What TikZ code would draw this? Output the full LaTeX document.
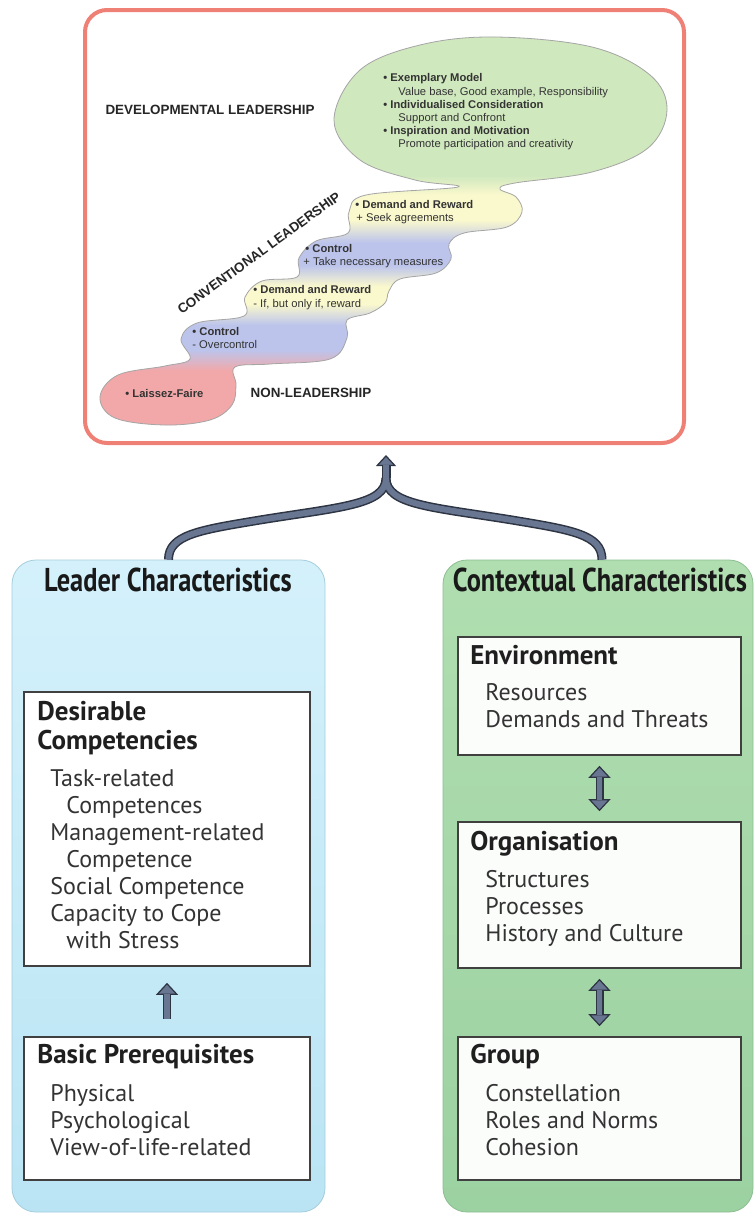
\documentclass[tikz,border=0pt]{standalone}
\usepackage{fontspec}
\usepackage{xcolor}
\usepackage{tikz}
\usetikzlibrary{
  arrows.meta,
  positioning
}

\newfontfamily\arialfont{Liberation Sans}
\newfontfamily\myriadfont{PT Sans}
\newfontfamily\condfont[FakeStretch=0.8]{PT Sans}

\definecolor{framered}{RGB}{238,128,118}
\definecolor{blobgreen}{RGB}{208,232,190}
\definecolor{blobyellow}{RGB}{250,248,205}
\definecolor{blobblue}{RGB}{188,196,236}
\definecolor{blobred}{RGB}{242,168,168}
\definecolor{blobline}{RGB}{165,165,165}
\definecolor{arrowfill}{RGB}{104,118,146}
\definecolor{arrowdark}{RGB}{45,52,66}
\definecolor{leadertop}{RGB}{212,241,251}
\definecolor{leaderbottom}{RGB}{186,228,244}
\definecolor{leaderedge}{RGB}{165,205,220}
\definecolor{contexttop}{RGB}{176,222,176}
\definecolor{contextbottom}{RGB}{156,209,161}
\definecolor{contextedge}{RGB}{140,190,145}

\pgfdeclareverticalshading{blobs}{100bp}{color(0bp)=(blobred); color(32bp)=(blobred); color(34.7bp)=(blobblue); color(37.9bp)=(blobblue); color(40.6bp)=(blobyellow); color(42.9bp)=(blobyellow); color(45.6bp)=(blobblue); color(48.5bp)=(blobblue); color(51.4bp)=(blobyellow); color(54.7bp)=(blobyellow); color(57.1bp)=(blobgreen); color(100bp)=(blobgreen)}

\begin{document}
\begin{tikzpicture}[x=0.5pt,y=-0.5pt,% 1単位 = 1ピクセル
    toptext/.style={font=\arialfont\fontsize{5.6}{6.6}\selectfont, text=black!80, inner sep=0pt, anchor=base west},
    topbold/.style={toptext, font=\arialfont\bfseries\fontsize{5.6}{6.6}\selectfont},
    level/.style={font=\arialfont\bfseries\fontsize{6.7}{8}\selectfont, text=black!85, inner sep=0pt},
    panel/.style={draw=#1edge, top color=#1top, bottom color=#1bottom, rounded corners=12pt, minimum height=326pt, inner sep=0pt},
    paneltitle/.style={font=\condfont\bfseries\fontsize{16.5}{18}\selectfont, text=black!90, inner sep=0pt},
    box/.style={draw=black!75, line width=0.8pt, fill=#1, minimum width=142pt, inner sep=0pt},
    boxtitle/.style={font=\myriadfont\bfseries\fontsize{13.5}{15}\selectfont, text=black!88, inner sep=0pt, anchor=base west},
    boxitem/.style={font=\myriadfont\fontsize{12}{14}\selectfont, text=black!80, inner sep=0pt, anchor=base west},
    bigdark/.style={line width=4.5pt, draw=arrowdark},
    biglight/.style={line width=3pt, draw=arrowfill},
    fatarrow/.style={line width=4pt, draw=arrowdark,
      -{Triangle[length=6pt, width=11pt, line width=0.6pt, fill=arrowfill]},
      postaction={draw=arrowfill, line width=2.6pt, -, shorten >=5.5pt}},
    dblarrow/.style={line width=4pt, draw=arrowdark,
      {Triangle[length=6pt, width=11pt, line width=0.6pt, fill=arrowfill]}-{Triangle[length=6pt, width=11pt, line width=0.6pt, fill=arrowfill]},
      postaction={draw=arrowfill, line width=2.6pt, -, shorten >=5.5pt, shorten <=5.5pt}}
  ]
  \useasboundingbox (0,0) rectangle (754,1216);

  % 上の図
  \node[draw=framered, line width=2pt, rounded corners=11pt, fill=white,
    minimum width=299.5pt, minimum height=216.5pt] (frame) at (384.5,226.5) {};

  \shadedraw[shading=blobs, draw=blobline, line width=0.4pt]
    plot[smooth cycle, tension=0.6] coordinates {
      (495,37) (592,47) (650,75) (667,110) (648,148) (592,172) (515,183)
      (500,189) (516,197) (522,212) (507,227) (464,233) (449,244) (451,259)
      (436,273) (400,279) (389,291) (385,303) (370,313) (347,320) (347,338)
      (330,359) (270,364) (235,367) (236,385) (232,405) (210,420) (165,425)
      (115,418) (100,397) (118,375) (165,366) (190,359) (181,339) (197,323)
      (244,316) (245,297) (262,281) (297,277) (299,258) (316,241) (348,233)
      (349,212) (366,195) (458,187) (415,180) (360,160) (334,120) (360,70)
      (420,45)
    };

  \node[level] (devlabel) at (210,110) {DEVELOPMENTAL LEADERSHIP};
  \node[level, rotate=36] (convlabel) at (259,253) {CONVENTIONAL LEADERSHIP};
  \node[level] (nonlabel) at (311,393) {NON-LEADERSHIP};

  \node[topbold] (em) at (383,81) {\textbullet\ Exemplary Model};
  \node[toptext] (em-sub) at (398,95) {Value base, Good example, Responsibility};
  \node[topbold] (ic) at (383,108) {\textbullet\ Individualised Consideration};
  \node[toptext] (ic-sub) at (398,121) {Support and Confront};
  \node[topbold] (im) at (383,134) {\textbullet\ Inspiration and Motivation};
  \node[toptext] (im-sub) at (398,147) {Promote participation and creativity};
  \node[topbold] (dr1) at (355,208) {\textbullet\ Demand and Reward};
  \node[toptext] (dr1-sub) at (356,221) {+ Seek agreements};
  \node[topbold] (ct1) at (305,252) {\textbullet\ Control};
  \node[toptext] (ct1-sub) at (303,265) {+ Take necessary measures};
  \node[topbold] (dr2) at (253,293) {\textbullet\ Demand and Reward};
  \node[toptext] (dr2-sub) at (253,307) {- If, but only if, reward};
  \node[topbold] (ct2) at (192,335) {\textbullet\ Control};
  \node[toptext] (ct2-sub) at (192,348) {- Overcontrol};
  \node[topbold] (lf) at (125,397) {\textbullet\ Laissez-Faire};

  % 下のパネル
  \node[panel=leader, minimum width=156.5pt] (leader) at (168.5,886) {};
  \node[panel=context, minimum width=155pt] (context) at (598,886) {};
  \node[paneltitle] (leader-title) at (168,580) {Leader Characteristics};
  \node[paneltitle] (context-title) at (600,580) {Contextual Characteristics};

  % 枠
  \node[box=white, minimum width=143pt, minimum height=137pt] (dc) at (167,829) {};
  \node[box=white, minimum width=143pt, minimum height=71.5pt] (bp) at (167,1108.5) {};
  \node[box=white!95!contexttop, minimum width=141.5pt, minimum height=59pt] (env) at (599.5,696) {};
  \node[box=white!95!contexttop, minimum width=141.5pt, minimum height=73pt] (org) at (599.5,895) {};
  \node[box=white!95!contexttop, minimum width=141.5pt, minimum height=71.5pt] (grp) at (599.5,1108.5) {};

  % 枠の文字
  \node[boxtitle] (dc-title) at (37,720) {Desirable};
  \node[boxtitle] (dc-title2) at (37,749) {Competencies};
  \foreach \dx/\t [count=\i] in {0/Task-related, 16/Competences, 0/Management-related,
      16/Competence, 0/Social Competence, 0/Capacity to Cope, 16/with Stress}
    \node[boxitem] (dc-item-\i) at ({50+\dx},{786+27*(\i-1)}) {\t};

  \node[boxtitle] (bp-title) at (37,1063) {Basic Prerequisites};
  \foreach \t [count=\i] in {Physical, Psychological, View-of-life-related}
    \node[boxitem] (bp-item-\i) at (50,{1101+27*(\i-1)}) {\t};

  \node[boxtitle] (env-title) at (470,664) {Environment};
  \foreach \t [count=\i] in {Resources, Demands and Threats}
    \node[boxitem] (env-item-\i) at (485,{700+27*(\i-1)}) {\t};

  \node[boxtitle] (org-title) at (470,850) {Organisation};
  \foreach \t [count=\i] in {Structures, Processes, History and Culture}
    \node[boxitem] (org-item-\i) at (485,{887+27*(\i-1)}) {\t};

  \node[boxtitle] (grp-title) at (470,1063) {Group};
  \foreach \t [count=\i] in {Constellation, Roles and Norms, Cohesion}
    \node[boxitem] (grp-item-\i) at (485,{1101+27*(\i-1)}) {\t};

  % 矢印
  \draw[fatarrow] ([yshift=8.5pt]bp.north) -- ([yshift=-8pt]dc.south);
  \draw[dblarrow] ([yshift=-5pt]env.south) -- ([yshift=5pt]org.north);
  \draw[dblarrow] ([yshift=-5pt]org.south) -- ([yshift=5pt]grp.north);

  % 上への矢印
  \coordinate (join) at (386,478);
  \coordinate (tip) at (386,455);
  \draw[bigdark] (leader.north) .. controls +(0,-25) and (200,530) .. (260,520)
    .. controls (340,507) and (386,505) .. (join);
  \draw[bigdark] ([xshift=2pt]context.north) .. controls +(0,-25) and (572,530) .. (512,520)
    .. controls (432,507) and (386,505) .. (join);
  \draw[bigdark, -{Triangle[length=5.5pt, width=10pt, line width=0.6pt, fill=arrowfill]}] (join) -- (tip);
  \draw[biglight] (leader.north) .. controls +(0,-25) and (200,530) .. (260,520)
    .. controls (340,507) and (386,505) .. (join);
  \draw[biglight] ([xshift=2pt]context.north) .. controls +(0,-25) and (572,530) .. (512,520)
    .. controls (432,507) and (386,505) .. (join);
  \draw[biglight, shorten >=5pt] (join) -- (tip);

\end{tikzpicture}
\end{document}
